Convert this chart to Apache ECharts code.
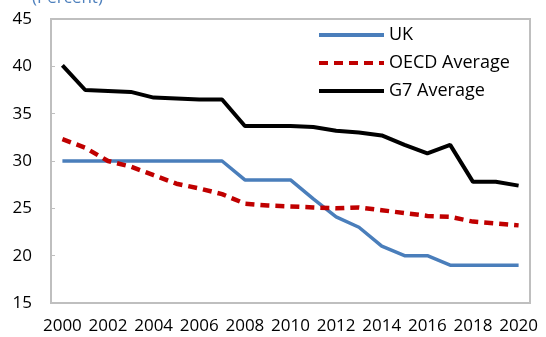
<!DOCTYPE html>
<html><head><meta charset="utf-8">
<script src="https://cdn.jsdelivr.net/npm/echarts@6/dist/echarts.min.js"></script>
<style>html,body{margin:0;padding:0;background:#fff}#c{width:546px;height:337px}</style>
</head><body><div id="c"></div>
<script>
const years = ['2000','2001','2002','2003','2004','2005','2006','2007','2008','2009','2010','2011','2012','2013','2014','2015','2016','2017','2018','2019','2020'];
const uk = [30,30,30,30,30,30,30,30,28,28,28,26,24.1,23,21,20,20,19,19,19,19];
const oecd = [32.3,31.4,30.0,29.4,28.5,27.6,27.1,26.5,25.5,25.3,25.2,25.1,25.0,25.1,24.8,24.5,24.2,24.1,23.6,23.4,23.2];
const g7 = [40.1,37.5,37.4,37.3,36.7,36.6,36.5,36.5,33.7,33.7,33.7,33.6,33.2,33.0,32.7,31.7,30.8,31.7,27.8,27.8,27.4];
const yTicks = {min:15, max:45, interval:5};
const FONT = '"Open Sans", "Noto Sans", sans-serif';
const chart = echarts.init(document.getElementById('c'));
chart.setOption({
  animation:false,
  graphic:[{type:'text', left:32, top:-10, style:{text:'(Percent)', fill:'#4F81BD', font:'17px '+FONT}}],
  grid:{left:51, right:16, top:19, bottom:34, show:true, borderColor:'#BFBFBF', borderWidth:2},
  legend:{
    orient:'vertical', left:317, top:26, padding:0, itemWidth:65, itemHeight:14, itemGap:10,
    itemStyle:{opacity:0},
    lineStyle:{width:4},
    textStyle:{fontFamily:FONT, fontSize:18, color:'#000'},
    data:['UK','OECD Average','G7 Average']
  },
  xAxis:{
    type:'category', data:years, boundaryGap:true,
    axisLine:{lineStyle:{color:'#BFBFBF', width:2}},
    axisTick:{inside:true, length:4, interval:0, lineStyle:{color:'#BFBFBF', width:1}},
    axisLabel:{interval:1, color:'#000', fontFamily:FONT, fontSize:17, margin:15}
  },
  yAxis:{
    type:'value', min:yTicks.min, max:yTicks.max, interval:yTicks.interval,
    splitLine:{show:false},
    axisLine:{show:true, lineStyle:{color:'#BFBFBF', width:2}},
    axisTick:{show:true, inside:true, length:4, lineStyle:{color:'#BFBFBF', width:1}},
    axisLabel:{color:'#000', fontFamily:FONT, fontSize:17, margin:19}
  },
  series:[
    {name:'UK', type:'line', data:uk, symbol:'none', lineStyle:{color:'#4A7EBB', width:3.5}, itemStyle:{color:'#4A7EBB'}},
    {name:'OECD Average', type:'line', data:oecd, symbol:'none', lineStyle:{color:'#C00000', width:4.5, type:[9,6]}, itemStyle:{color:'#C00000'}},
    {name:'G7 Average', type:'line', data:g7, symbol:'none', lineStyle:{color:'#000', width:4}, itemStyle:{color:'#000'}}
  ]
});
</script></body></html>
